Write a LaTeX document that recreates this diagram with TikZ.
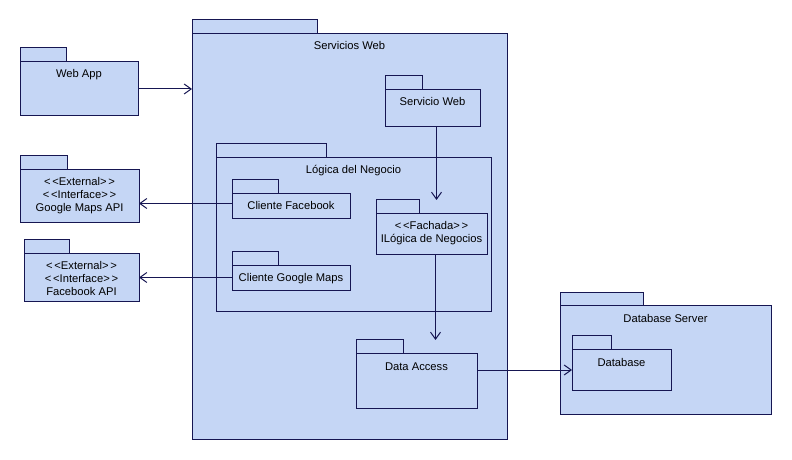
\documentclass[tikz,border=0pt]{standalone}
\usepackage{fontspec}
\setmainfont{Liberation Sans}
\usetikzlibrary{positioning,arrows.meta}

\definecolor{pkgfill}{RGB}{197,214,245}
\definecolor{pkgline}{RGB}{22,22,82}

\newcommand{\pkgfont}{\fontsize{11.2bp}{12.7bp}\selectfont}

\tikzset{
	pkg/.style={draw=pkgline, fill=pkgfill, line width=1bp, inner sep=0pt, outer sep=0pt, anchor=north west},
	pkgtab/.style={pkg, anchor=south west, minimum height=14bp},
	pkgname/.style={inner sep=0pt, anchor=base, align=center, font=\pkgfont},
	dep/.style={draw=pkgline, line width=1bp, -{Straight Barb[length=7bp,width=10bp]}}
}

\begin{document}
\begin{tikzpicture}[x=1bp,y=-1bp]
		
		\useasboundingbox (0,0) rectangle (792,460);
		
		% paquetes externos
		\node[pkg, minimum width=118bp, minimum height=54bp] (webapp) at (20,62) {};
		\node[pkgtab, minimum width=46bp] (webapp-tab) at (webapp.north west) {};
		\node[pkgname] (webapp-name) at ([yshift=-16bp]webapp.north) {Web App};
		
		\node[pkg, minimum width=119bp, minimum height=53bp] (gmapi) at (20,170) {};
		\node[pkgtab, minimum width=47bp] (gmapi-tab) at (gmapi.north west) {};
		\node[pkgname] (gmapi-name) at ([yshift=-41.4bp]gmapi.north) {<\,<External>\,>\\<\,<Interface>\,>\\Google Maps API};
		
		\node[pkg, minimum width=115bp, minimum height=48bp] (fbapi) at (24,254) {};
		\node[pkgtab, minimum width=45bp] (fbapi-tab) at (fbapi.north west) {};
		\node[pkgname] (fbapi-name) at ([yshift=-41.4bp]fbapi.north) {<\,<External>\,>\\<\,<Interface>\,>\\Facebook API};
		
		% servicios web
		\node[pkg, minimum width=315bp, minimum height=405bp] (servicios) at (192,34) {};
		\node[pkgtab, minimum width=125bp] (servicios-tab) at (servicios.north west) {};
		\node[pkgname] (servicios-name) at ([yshift=-16bp]servicios.north) {Servicios Web};
		
		\node[pkg, minimum width=95bp, minimum height=37bp] (servweb) at (385,90) {};
		\node[pkgtab, minimum width=37bp] (servweb-tab) at (servweb.north west) {};
		\node[pkgname] (servweb-name) at ([yshift=-16bp]servweb.north) {Servicio Web};
		
		\node[pkg, minimum width=275bp, minimum height=153bp] (logica) at (216,158) {};
		\node[pkgtab, minimum width=110bp] (logica-tab) at (logica.north west) {};
		\node[pkgname] (logica-name) at ([yshift=-16bp]logica.north) {Lógica del Negocio};
		
		\node[pkg, minimum width=118bp, minimum height=25bp] (clifb) at (232,194) {};
		\node[pkgtab, minimum width=46bp] (clifb-tab) at (clifb.north west) {};
		\node[pkgname] (clifb-name) at ([yshift=-16bp]clifb.north) {Cliente Facebook};
		
		\node[pkg, minimum width=118bp, minimum height=25bp] (cligm) at (232,266) {};
		\node[pkgtab, minimum width=46bp] (cligm-tab) at (cligm.north west) {};
		\node[pkgname] (cligm-name) at ([yshift=-16bp]cligm.north) {Cliente Google Maps};
		
		\node[pkg, minimum width=111bp, minimum height=41bp] (fachada) at (376,214) {};
		\node[pkgtab, minimum width=43bp] (fachada-tab) at (fachada.north west) {};
		\node[pkgname] (fachada-name) at ([yshift=-28.7bp]fachada.north) {<\,<Fachada>\,>\\ILógica de Negocios};
		
		\node[pkg, minimum width=121bp, minimum height=54bp] (dataacc) at (356,354) {};
		\node[pkgtab, minimum width=47bp] (dataacc-tab) at (dataacc.north west) {};
		\node[pkgname] (dataacc-name) at ([yshift=-16bp]dataacc.north) {Data Access};
		
		% base de datos
		\node[pkg, minimum width=211bp, minimum height=108bp] (dbserver) at (560,306) {};
		\node[pkgtab, minimum width=83bp, minimum height=13bp] (dbserver-tab) at (dbserver.north west) {};
		\node[pkgname] (dbserver-name) at ([yshift=-16bp]dbserver.north) {Database Server};
		
		\node[pkg, minimum width=99bp, minimum height=40bp] (db) at (572,350) {};
		\node[pkgtab, minimum width=39bp] (db-tab) at (db.north west) {};
		\node[pkgname] (db-name) at ([yshift=-16bp]db.north) {Database};
		
		% dependencias
		\draw[dep] (webapp.east) -- (webapp.east -| servicios.west);
		\draw[dep] ([yshift=3bp]clifb.west) -- ([yshift=3bp]clifb.west -| gmapi.east);
		\draw[dep] ([yshift=1bp]cligm.west) -- ([yshift=1bp]cligm.west -| fbapi.east);
		\draw[dep] ([xshift=4bp]servweb.south) -- ([xshift=4bp]servweb.south |- fachada-tab.north);
		\draw[dep] ([xshift=4bp]fachada.south) -- ([xshift=4bp]fachada.south |- dataacc-tab.north);
		\draw[dep] (dataacc.east |- db.west) -- (db.west);
		
\end{tikzpicture}
\end{document}
